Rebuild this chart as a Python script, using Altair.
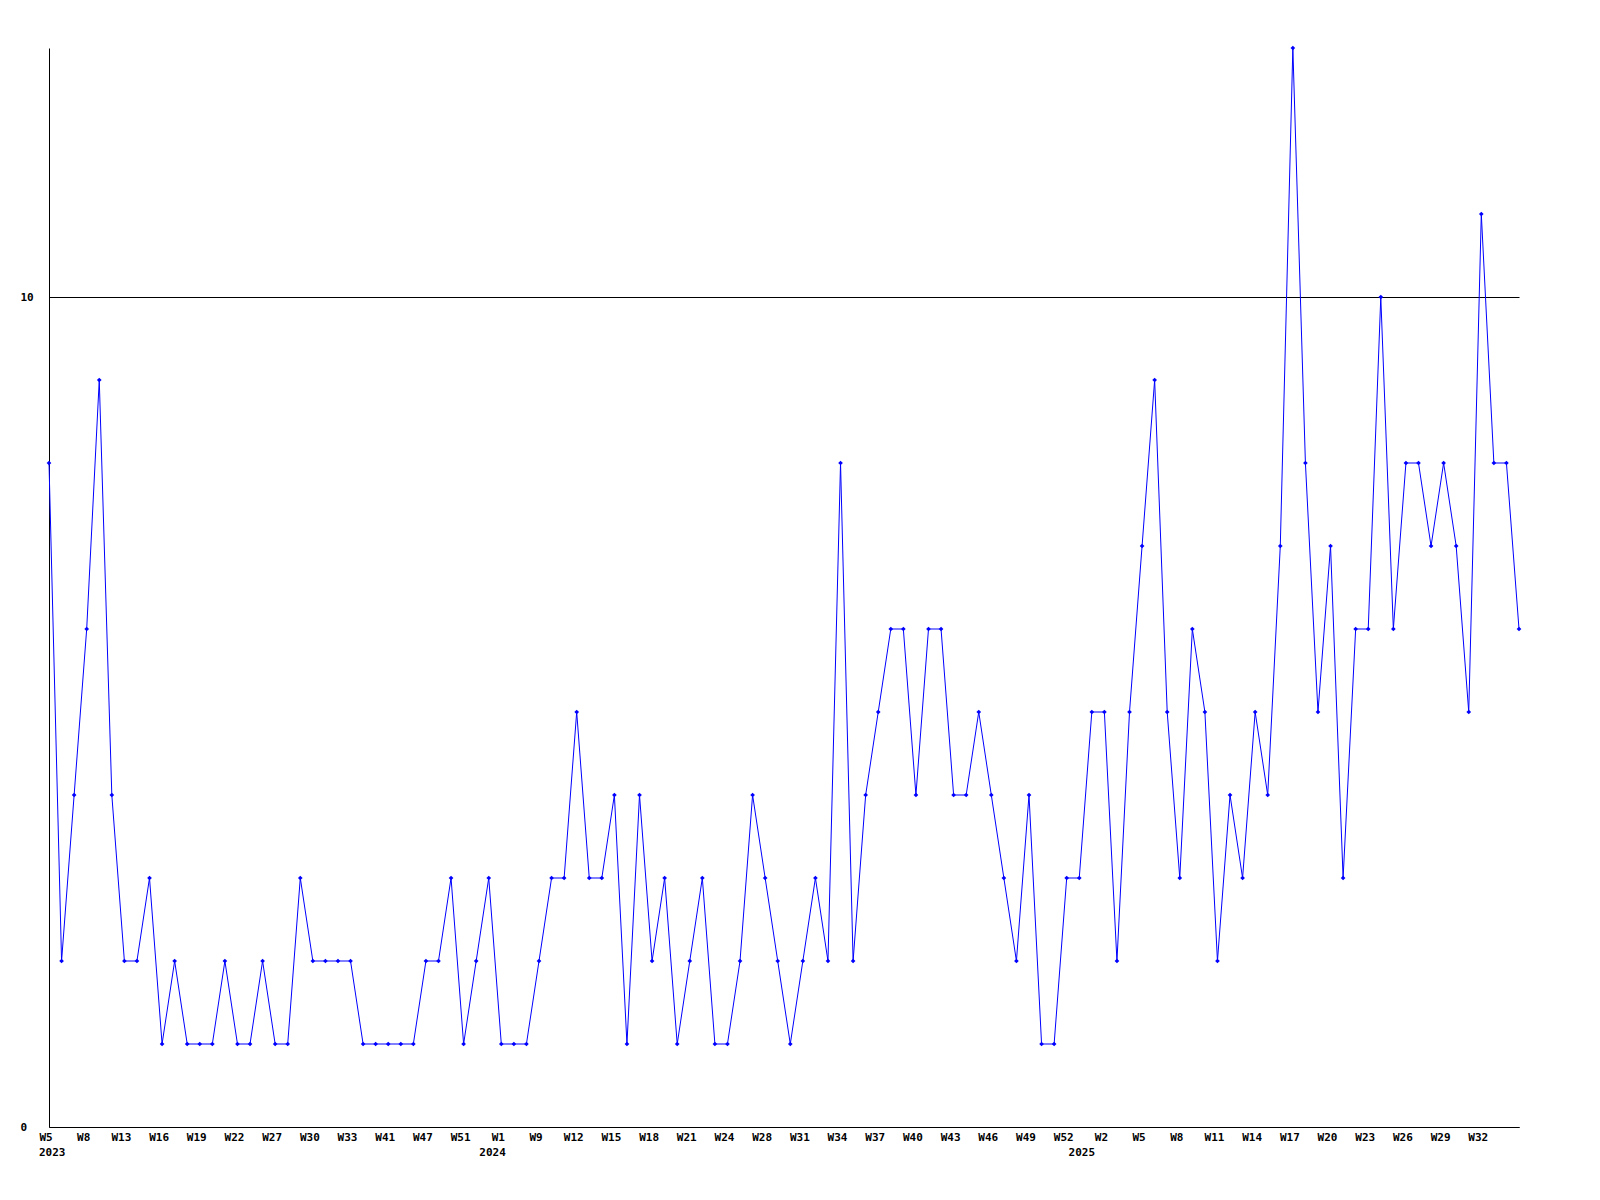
import altair as alt
import pandas as pd

values = [8, 2, 4, 6, 9, 4, 2, 2, 3, 1, 2, 1, 1, 1, 2, 1, 1, 2, 1, 1,
          3, 2, 2, 2, 2, 1, 1, 1, 1, 1, 2, 2, 3, 1, 2, 3, 1, 1, 1, 2,
          3, 3, 5, 3, 3, 4, 1, 4, 2, 3, 1, 2, 3, 1, 1, 2, 4, 3, 2, 1,
          2, 3, 2, 8, 2, 4, 5, 6, 6, 4, 6, 6, 4, 4, 5, 4, 3, 2, 4, 1,
          1, 3, 3, 5, 5, 2, 5, 7, 9, 5, 3, 6, 5, 2, 4, 3, 5, 4, 7, 13,
          8, 5, 7, 3, 6, 6, 10, 6, 8, 8, 7, 8, 7, 5, 11, 8, 8, 6]

week_labels = ["W5", "W8", "W13", "W16", "W19", "W22", "W27", "W30", "W33", "W41",
               "W47", "W51", "W1", "W9", "W12", "W15", "W18", "W21", "W24", "W28",
               "W31", "W34", "W37", "W40", "W43", "W46", "W49", "W52", "W2", "W5",
               "W8", "W11", "W14", "W17", "W20", "W23", "W26", "W29", "W32"]
label_step = 3

years = ["2023", "2024", "2025"]
year_pos = [0.25, 35.3, 82.2]

df = pd.DataFrame({"i": list(range(len(values))), "v": values})
tick_vals = [k * label_step for k in range(len(week_labels))]
wdf = pd.DataFrame({"i": tick_vals, "lab": week_labels})
ydf = pd.DataFrame({"i": year_pos, "year": years})

W, H = 1470, 1079
FONT = "DejaVu Sans Mono"
BLUE = "#0000ff"

xscale = alt.Scale(domain=[0, len(values) - 1], nice=False, zero=False)
yscale = alt.Scale(domain=[0, 13], nice=False)

xaxis = alt.Axis(values=tick_vals, labels=False, title=None, grid=False, ticks=False,
                 domainColor="black")
yaxis = alt.Axis(values=[0, 10], format="d", title=None, grid=True, gridColor="black",
                 gridOpacity=1, gridWidth=1, ticks=False, labelAlign="left",
                 labelPadding=29, labelFont=FONT, labelFontWeight="bold",
                 labelFontSize=11, labelColor="black", domainColor="black",
                 labelBaseline="middle")

base = alt.Chart(df)
line = base.mark_line(color=BLUE, strokeWidth=1).encode(
    x=alt.X("i:Q", scale=xscale, axis=xaxis),
    y=alt.Y("v:Q", scale=yscale, axis=yaxis),
)
pts = base.mark_point(color=BLUE, filled=True, shape="diamond", size=22, opacity=1).encode(
    x=alt.X("i:Q", scale=xscale),
    y=alt.Y("v:Q", scale=yscale),
)
wk = alt.Chart(wdf).mark_text(font=FONT, fontWeight="bold", fontSize=11, color="black",
                              baseline="middle", align="center", dx=-3).encode(
    x=alt.X("i:Q", scale=xscale),
    y=alt.value(H + 11),
    text="lab:N",
)
yr = alt.Chart(ydf).mark_text(font=FONT, fontWeight="bold", fontSize=11, color="black",
                              baseline="middle", align="center").encode(
    x=alt.X("i:Q", scale=xscale),
    y=alt.value(H + 26),
    text="year:N",
)

chart = alt.layer(line, pts, wk, yr).properties(
    width=W, height=H,
    view=alt.ViewBackground(stroke="transparent", strokeWidth=0, strokeOpacity=0),
    autosize=alt.AutoSizeParams(type="none"),
    padding={"left": 41, "top": 40, "right": 20, "bottom": 40},
).configure_view(stroke="transparent", strokeWidth=0, strokeOpacity=0).configure(background="white")

chart.save("out.html", embed_options={"renderer": "svg", "actions": False})
